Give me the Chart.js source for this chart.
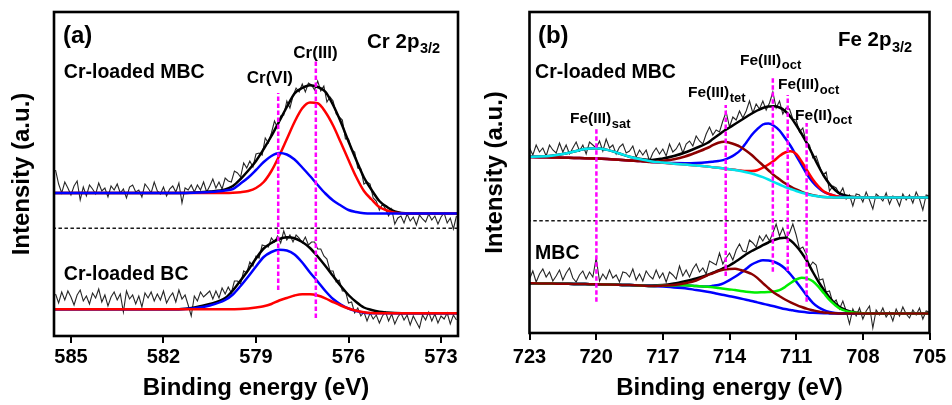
<!DOCTYPE html>
<html><head><meta charset="utf-8">
<script src="https://cdn.jsdelivr.net/npm/chart.js@4.4.1/dist/chart.umd.min.js"></script>
<style>
html,body{margin:0;padding:0;background:#fff;width:952px;height:405px;overflow:hidden}
#ca{position:absolute;left:0;top:0}
#cb{position:absolute;left:476px;top:0}
</style></head><body>
<canvas id="ca" width="476" height="405"></canvas>
<canvas id="cb" width="476" height="405"></canvas>
<script>
// ---------------- Panel (a): Cr 2p3/2 ----------------
const crTicks = [585, 582, 579, 576, 573];
const crRawStart = 585.5, crRawStep = 0.1;
const crRawMBC = [166,152,143,154,148,141,150,155,136,149,
 140,151,147,142,153,145,148,139,150,146,
 152,143,147,138,149,151,144,146,139,152,
 148,143,154,145,142,149,140,147,150,144,
 153,133,148,146,151,144,151,146,154,144,
 150,157,148,154,147,158,155,154,165,163,
 159,173,168,175,169,182,183,181,198,193,
 203,215,208,220,221,235,228,240,248,244,
 252,244,253,251,246,255,245,250,234,239,
 235,222,219,216,197,197,186,184,168,167,
 152,154,152,138,135,126,132,127,120,127,
 112,118,120,113,122,115,119,111,121,117,
 114,122,116,120,112,119,123,113,118,107,
 120];
const crRawBC = [42,33,44,36,45,39,31,41,46,35,
 40,32,43,38,47,34,41,30,39,44,
 36,42,24,45,37,41,32,40,29,43,
 38,44,35,42,36,45,33,39,43,34,
 46,37,41,31,20,40,35,44,39,42,
 45,37,45,38,48,42,49,43,55,55,
 52,65,63,74,70,80,78,91,90,89,
 98,94,100,93,105,96,101,94,101,98,
 93,99,91,94,94,87,87,80,77,65,
 65,54,56,45,45,33,34,23,28,20,
 24,15,23,17,21,13,20,24,15,22,
 12,19,23,16,21,11,20,14,8,21,
 16,24,15,22,13,20,17,23,12,21,
 16];
const crFitE = [585.6, 584, 583, 582, 581.5, 581, 580.5, 580, 579.75, 579.5, 579.25, 579, 578.75, 578.5, 578.25, 578, 577.75, 577.5, 577.25, 577, 576.75, 576.5, 576.25, 576, 575.75, 575.5, 575.25, 575, 574.75, 574.5, 574, 573.5, 572.4];
const crMBCEnvelope = [143, 143, 143, 143, 143, 143.5, 144.5, 146.5, 150, 157, 165.5, 175, 187, 200, 214.5, 229, 242.5, 248, 250.8, 249, 244.3, 231, 214, 194.5, 176, 158.5, 146, 135, 129, 124.5, 122.5, 122.5, 122.5];
const crMBCCrIII = [143, 143, 143, 143, 143, 143, 143, 143, 143.2, 143.8, 145, 148, 154, 165, 180, 197, 214, 227.7, 233.5, 232.8, 224, 210.5, 193.5, 176, 159, 145, 136.5, 129, 125.5, 123.3, 122.5, 122.5, 122.5];
const crMBCCrVI = [143, 143, 143, 143, 143, 143.3, 144, 145.5, 147, 152.5, 158.5, 166, 174, 180, 183, 181.5, 176.5, 168.5, 160, 151, 142.5, 135.5, 130.5, 126, 124, 122.8, 122.5, 122.5, 122.5, 122.5, 122.5, 122.5, 122.5];
const crBCEnvelope = [26.7, 26.7, 26.7, 26.7, 26.8, 28.5, 32, 38, 45.5, 55.5, 66, 77.5, 87.5, 93, 97, 98.7, 97.8, 94, 88, 79.5, 70, 60, 50, 41, 34, 28.5, 26, 24.3, 23.5, 23, 22.7, 22.7, 22.7];
const crBCCrVI = [26.7, 26.7, 26.7, 26.7, 26.7, 27.8, 30.5, 36, 41.5, 50, 59.5, 69.5, 79, 84, 86.3, 85.5, 81.5, 73.5, 63.5, 54.5, 45, 37, 31.5, 27.5, 25, 23.3, 22.8, 22.7, 22.7, 22.7, 22.7, 22.7, 22.7];
const crBCCrIII = [26.7, 26.7, 26.7, 26.7, 26.7, 26.7, 26.7, 26.7, 26.8, 27, 27.6, 28.5, 29.7, 32, 35.5, 38, 40.5, 41.8, 41.8, 40.5, 37.7, 34, 30.5, 27.5, 25.2, 23.8, 23, 22.7, 22.7, 22.7, 22.7, 22.7, 22.7];
const crMarkE = [578.28, 577.06];
const crMarkTop = [243, 276];
const crMarkBottom = [46, 18];
const crSeparator = 107.7;

// ---------------- Panel (b): Fe 2p3/2 ----------------
const feTicks = [723, 720, 717, 714, 711, 708, 705];
const feRawStart = 723, feRawStep = 0.15;
const feRawCrMBC = [185,178,188,181,185,177,188,183,180,190,
 181,188,179,185,191,182,188,179,191,188,
 185,192,182,194,185,188,179,186,189,180,
 182,187,176,183,178,183,172,180,185,179,
 184,177,189,181,184,190,180,189,192,187,
 197,192,189,199,206,198,203,201,212,221,
 206,216,213,222,215,222,232,220,229,224,
 232,223,230,241,225,232,219,225,224,214,
 213,201,205,191,188,175,177,167,158,161,
 142,147,145,139,145,134,138,127,139,138,
 131,141,133,124,139,136,132,140,129,137,
 135,127,139,133,138,130,141,134,123,138,
 137];
const feRawMBC = [54,62,51,59,64,56,61,52,57,63,
 53,60,65,55,51,58,62,54,61,56,
 75,52,59,54,63,55,58,51,61,60,
 56,64,53,59,52,62,57,54,63,55,
 60,51,61,58,54,67,57,63,56,64,
 69,61,65,59,72,70,68,80,69,75,
 80,73,83,89,82,81,93,90,86,97,
 92,98,92,100,109,97,105,95,100,109,
 98,84,86,79,66,71,68,53,54,41,
 42,30,33,24,32,22,9,24,17,25,
 14,22,27,5,23,18,25,16,21,12,
 24,17,26,19,15,23,18,25,14,22,
 21];
const feFitE = [723.1, 722.5, 722, 721.5, 721, 720.5, 720, 719.5, 719, 718.5, 718, 717.5, 717, 716.5, 716, 715.5, 715, 714.75, 714.5, 714.25, 714, 713.75, 713.5, 713.25, 713, 712.75, 712.5, 712.25, 712, 711.75, 711.5, 711.25, 711, 710.75, 710.5, 710.25, 710, 709.75, 709.5, 709.25, 709, 708.5, 708, 707, 706, 704.9];
const feCrEnvelope = [176.2, 176.4, 177.2, 179, 181.5, 183.9, 184.7, 183.1, 179.8, 176.3, 174, 173, 174.5, 177, 180.5, 185, 190, 194, 198, 202, 205.5, 209, 212.5, 216, 219.5, 222.5, 225, 226.5, 226.8, 225.5, 222, 216, 208, 199, 189, 178, 167, 157, 149, 143, 139, 136.3, 135.5, 135.5, 135.5, 135.5];
const feCrSat = [176.2, 176.4, 177.2, 179, 181.5, 183.9, 184.7, 183.1, 179.8, 176.3, 173.7, 171.6, 170.4, 169.3, 168.5, 167.5, 166.5, 165.8, 165.2, 164.5, 163.8, 163, 162, 160.8, 159.5, 157.8, 155.8, 153.5, 150.8, 148.5, 146, 144, 142, 140.3, 138.8, 137.6, 136.7, 136, 135.8, 135.6, 135.5, 135.5, 135.5, 135.5, 135.5, 135.5];
const feCrTet = [176, 175.8, 175.5, 175.3, 175, 174.8, 174.5, 174, 173.3, 172.6, 172, 171, 172.2, 173.8, 176.5, 180.5, 185, 187.8, 190.2, 191.3, 190.3, 188.5, 186, 182.3, 178, 172.8, 167.8, 162.8, 157.8, 153.7, 149.7, 146.4, 143.5, 141.2, 139.3, 137.8, 136.7, 136, 135.8, 135.6, 135.5, 135.5, 135.5, 135.5, 135.5, 135.5];
const feCrOct1 = [176, 175.8, 175.5, 175.3, 175, 174.8, 174.5, 174, 173.3, 172.6, 172, 171, 170.4, 169.9, 169.8, 170, 170.7, 171.3, 172, 173.1, 175.3, 178.5, 183, 190.3, 198, 203.8, 208.5, 209.5, 207.3, 202.5, 195, 187, 177.5, 167.8, 158.3, 150.9, 145.2, 141, 138.8, 137.1, 136.2, 135.5, 135.5, 135.5, 135.5, 135.5];
const feCrOct2 = [176, 175.8, 175.5, 175.3, 175, 174.8, 174.5, 174, 173.3, 172.6, 172, 171, 170.2, 169.3, 168.5, 167.5, 166.5, 165.8, 165.2, 164.5, 163.8, 163.2, 162.5, 162, 162, 162.8, 165.3, 168.5, 172.3, 177, 180.5, 181.8, 179, 171.3, 162.3, 153.6, 146.7, 141.5, 138.8, 137.1, 136.1, 135.5, 135.5, 135.5, 135.5, 135.5];
const feMBCEnvelope = [49.7, 49.5, 49.4, 49.2, 49.1, 48.9, 48.8, 48.5, 48.2, 47.9, 47.5, 47.5, 48, 49.5, 51.8, 54.5, 58, 60.3, 62.5, 65, 67.5, 71, 74.7, 78.7, 82, 84.8, 87.8, 90.5, 93, 94.8, 95.3, 92.5, 87, 80, 71.3, 61, 51.5, 43, 35.5, 29.5, 25.5, 21, 19.7, 19.5, 19.5, 19.5];
const feMBCBackground = [49.7, 49.5, 49.4, 49.2, 49.1, 48.9, 48.8, 48.5, 48.2, 47.9, 47.5, 47, 46.4, 45.6, 44.8, 43, 41.2, 40.2, 39, 37.9, 36.8, 35.7, 34.5, 33.2, 32, 30.6, 29.3, 28, 26.7, 25.3, 24, 23, 22, 21.2, 20.6, 20.2, 19.9, 19.7, 19.6, 19.5, 19.5, 19.5, 19.5, 19.5, 19.5, 19.5];
const feMBCTet = [49.7, 49.5, 49.4, 49.2, 49.1, 48.9, 48.8, 48.5, 48.2, 47.9, 47.5, 47, 47.4, 48.1, 49.8, 52.5, 57.7, 59.7, 62, 63.4, 64.1, 64.2, 63, 61.2, 59, 55.1, 49.8, 45, 40.2, 36.8, 33.5, 30.7, 28.2, 26, 24.1, 22.7, 21.4, 20.6, 20.1, 19.7, 19.5, 19.5, 19.5, 19.5, 19.5, 19.5];
const feMBCOct = [49.7, 49.5, 49.4, 49.2, 49.1, 48.9, 48.8, 48.5, 48.2, 47.9, 47.5, 47, 47.4, 47.4, 47.8, 47, 46.4, 47.2, 48, 49.9, 52.8, 56.2, 60, 64.2, 68.5, 71.1, 72.8, 72.5, 71.2, 68.6, 64.5, 58.5, 51.5, 44.2, 36.6, 30.2, 25.7, 22.9, 21.1, 20, 19.5, 19.5, 19.5, 19.5, 19.5, 19.5];
const feMBCFe2 = [49.7, 49.5, 49.4, 49.2, 49.1, 48.9, 48.8, 48.5, 48.2, 47.9, 47.5, 47, 47.4, 47.6, 47.8, 47, 46.2, 45.7, 45, 44.3, 43.6, 43, 42, 41.3, 40.8, 40.6, 40.8, 41, 41.5, 42.8, 46, 50, 53.5, 55.2, 54.4, 51.7, 46.4, 39.7, 33.1, 28, 24, 20.7, 19.7, 19.5, 19.5, 19.5];
const feMarkE = [719.99, 714.17, 712.05, 711.38, 710.53];
const feMarkTop = [204.7, 228, 254.7, 238, 210];
const feMarkBottom = [31.3, 57, 61.3, 62, 31.3];
const feSeparator = 112.3;

// ---------------- drawing ----------------
const F = '"Liberation Sans", Arial, Helvetica, sans-serif';
Chart.defaults.font.family = F;
Chart.defaults.color = '#000';

function xy(xs, ys){ return xs.map((x, i) => ({x: x, y: ys[i]})); }
function sampled(start, step, ys){ return ys.map((y, i) => ({x: Math.round((start - i * step) * 1000) / 1000, y: y})); }
function fitLine(xs, ys, color, order){
  return {data: xy(xs, ys), borderColor: color, borderWidth: 2.5, pointRadius: 0, fill: false, cubicInterpolationMode: 'monotone', order: order};
}
function rawLine(start, step, ys){
  return {data: sampled(start, step, ys), borderColor: '#262626', borderWidth: 1.1, pointRadius: 0, fill: false, tension: 0, order: 9};
}
function markLines(es, tops, bottoms){
  return es.map((e, i) => ({data: [{x: e, y: bottoms[i]}, {x: e, y: tops[i]}], borderColor: '#ff00ff', borderWidth: 2.5, borderDash: [4.5, 2.5], pointRadius: 0, fill: false, order: 0}));
}
function sepLine(y, x0, x1){
  return {data: [{x: x0, y: y}, {x: x1, y: y}], borderColor: '#1a1a1a', borderWidth: 1.5, borderDash: [3.5, 2.5], pointRadius: 0, fill: false, order: 1};
}

const framePlugin = {
  id: 'frame',
  afterDatasetsDraw(chart){
    const {ctx, chartArea: a} = chart;
    ctx.save();
    ctx.strokeStyle = '#000';
    ctx.lineWidth = 2.6;
    ctx.strokeRect(a.left, a.top, a.right - a.left, a.bottom - a.top);
    ctx.restore();
  }
};
const labelPlugin = {
  id: 'labels',
  afterDraw(chart, args, opts){
    const ctx = chart.ctx, xs = chart.scales.x, ys = chart.scales.y;
    ctx.save();
    ctx.fillStyle = '#000';
    ctx.textBaseline = 'alphabetic';
    ctx.textAlign = 'left';
    for (const l of opts.items){
      let px = xs.getPixelForValue(l.x);
      const py = ys.getPixelForValue(l.y);
      ctx.font = 'bold ' + l.size + 'px ' + F;
      const w = ctx.measureText(l.text).width;
      if (l.align === 'center') px -= w / 2;
      ctx.fillText(l.text, px, py);
      if (l.sub){
        ctx.font = 'bold ' + l.subSize + 'px ' + F;
        ctx.fillText(l.sub, px + w + 0.5, py + l.subDy);
      }
    }
    ctx.restore();
  }
};

function scaleOpts(c){
  return {
    x: {type: 'linear', reverse: true, min: c.min, max: c.max,
      afterBuildTicks: s => { s.ticks = c.ticks.map(v => ({value: v})); },
      afterFit: s => { s.height = c.xh; },
      ticks: {autoSkip: false, maxRotation: 0, minRotation: 0, padding: c.tp, color: '#000',
        font: {size: 20, weight: 'bold'}, callback: v => String(v)},
      grid: {display: true, drawOnChartArea: false, drawTicks: true, tickLength: 7, tickWidth: 2, color: '#000', lineWidth: 2},
      border: {display: false},
      title: {display: true, text: 'Binding energy (eV)', color: '#000', font: {size: 24, weight: 'bold'}, padding: {top: 0, bottom: 2}}
    },
    y: {type: 'linear', min: 0, max: c.ymax,
      afterFit: s => { s.width = c.yw; },
      ticks: {display: false}, grid: {display: false, drawTicks: false}, border: {display: false},
      title: {display: true, text: 'Intensity (a.u.)', color: '#000', font: {size: 24, weight: 'bold'}, padding: {top: c.yt, bottom: 0}}
    }
  };
}

const crLabels = [
  {x: 585.26, y: 293, text: '(a)', size: 24},
  {x: 585.23, y: 258.5, text: 'Cr-loaded MBC', size: 19.5},
  {x: 585.23, y: 56, text: 'Cr-loaded BC', size: 19.5},
  {x: 575.40, y: 288.5, text: 'Cr 2p', sub: '3/2', size: 20.5, subSize: 14.5, subDy: 5.5},
  {x: 578.55, y: 253, text: 'Cr(VI)', size: 17, align: 'center'},
  {x: 577.07, y: 278, text: 'Cr(III)', size: 17, align: 'center'}
];
const feLabels = [
  {x: 722.62, y: 290, text: '(b)', size: 24},
  {x: 722.75, y: 255.5, text: 'Cr-loaded MBC', size: 19.5},
  {x: 722.75, y: 74, text: 'MBC', size: 19.5},
  {x: 709.12, y: 287, text: 'Fe 2p', sub: '3/2', size: 20.5, subSize: 14.5, subDy: 6},
  {x: 721.18, y: 210, text: 'Fe(III)', sub: 'sat', size: 15.5, subSize: 13, subDy: 4.5},
  {x: 715.87, y: 236, text: 'Fe(III)', sub: 'tet', size: 15.5, subSize: 13, subDy: 4.5},
  {x: 713.53, y: 268.5, text: 'Fe(III)', sub: 'oct', size: 15.5, subSize: 13, subDy: 4.5},
  {x: 711.82, y: 244, text: 'Fe(III)', sub: 'oct', size: 15.5, subSize: 13, subDy: 4.5},
  {x: 711.05, y: 213.5, text: 'Fe(II)', sub: 'oct', size: 15.5, subSize: 13, subDy: 4.5}
];

new Chart(document.getElementById('ca'), {
  type: 'line',
  data: {datasets: [
    rawLine(crRawStart, crRawStep, crRawMBC),
    rawLine(crRawStart, crRawStep, crRawBC),
    fitLine(crFitE, crMBCCrVI, '#0000ff', 2),
    fitLine(crFitE, crMBCCrIII, '#ff0000', 3),
    fitLine(crFitE, crMBCEnvelope, '#000000', 4),
    fitLine(crFitE, crBCCrIII, '#ff0000', 2),
    fitLine(crFitE, crBCCrVI, '#0000ff', 3),
    fitLine(crFitE, crBCEnvelope, '#000000', 4),
    sepLine(crSeparator, 585.6, 572.4),
    ...markLines(crMarkE, crMarkTop, crMarkBottom)
  ]},
  options: {
    responsive: false, animation: false, events: [],
    layout: {padding: {left: 0, right: 18, top: 12, bottom: 0}},
    scales: scaleOpts({min: 572.45, max: 585.55, ticks: crTicks, xh: 69, tp: 2, ymax: 324, yw: 54, yt: 7.6}),
    plugins: {legend: {display: false}, tooltip: {enabled: false}, labels: {items: crLabels}}
  },
  plugins: [framePlugin, labelPlugin]
});

new Chart(document.getElementById('cb'), {
  type: 'line',
  data: {datasets: [
    rawLine(feRawStart, feRawStep, feRawCrMBC),
    rawLine(feRawStart, feRawStep, feRawMBC),
    fitLine(feFitE, feCrSat, '#00e5ee', 2),
    fitLine(feFitE, feCrTet, '#8b0000', 3),
    fitLine(feFitE, feCrOct2, '#ff0000', 4),
    fitLine(feFitE, feCrOct1, '#0000ff', 5),
    fitLine(feFitE, feCrEnvelope, '#000000', 6),
    fitLine(feFitE, feMBCTet, '#8b0000', 2),
    fitLine(feFitE, feMBCFe2, '#00ee00', 3),
    fitLine(feFitE, feMBCOct, '#0000ff', 4),
    fitLine(feFitE, feMBCBackground, '#0000ff', 5),
    fitLine(feFitE, feMBCEnvelope, '#000000', 6),
    sepLine(feSeparator, 723.1, 704.9),
    ...markLines(feMarkE, feMarkTop, feMarkBottom)
  ]},
  options: {
    responsive: false, animation: false, events: [],
    layout: {padding: {left: 0, right: 22.5, top: 12, bottom: 0}},
    scales: scaleOpts({min: 705, max: 723, ticks: feTicks, xh: 72, tp: 5, ymax: 321, yw: 53.5, yt: 4.6}),
    plugins: {legend: {display: false}, tooltip: {enabled: false}, labels: {items: feLabels}}
  },
  plugins: [framePlugin, labelPlugin]
});
</script>
</body></html>
